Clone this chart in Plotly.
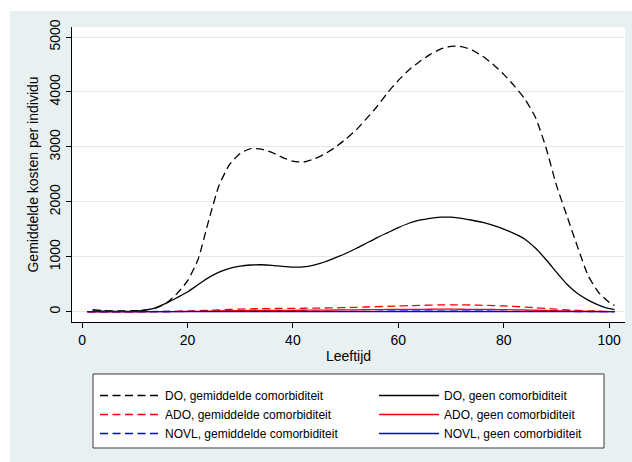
import plotly.graph_objects as go

# ---------------- data ----------------
age = [1, 2, 4, 6, 8, 10, 12, 14, 16, 18, 20, 22, 24, 26, 28, 30, 32, 34, 36, 38, 40,
       42, 44, 46, 48, 50, 52, 54, 56, 58, 60, 62, 64, 66, 68, 70, 72, 74, 76, 78, 80,
       82, 84, 86, 88, 90, 92, 94, 96, 98, 100, 101]

do_gem = [None, 40, 22, 15, 15, 18, 32, 72, 160, 330, 560, 950, 1650, 2300, 2680, 2880,
          2970, 2960, 2900, 2810, 2740, 2725, 2780, 2870, 2990, 3140, 3310, 3520, 3740,
          3990, 4210, 4400, 4550, 4680, 4780, 4830, 4825, 4760, 4650, 4500, 4320, 4110,
          3870, 3540, 2990, 2300, 1740, 1180, 660, 350, 170, 115]

do_geen = [None, 15, 10, 8, 8, 12, 28, 72, 155, 255, 360, 490, 620, 720, 790, 830, 850,
           855, 845, 825, 812, 815, 850, 905, 980, 1060, 1150, 1250, 1350, 1440, 1530,
           1610, 1665, 1700, 1720, 1720, 1700, 1665, 1625, 1570, 1505, 1420, 1320, 1160,
           950, 720, 500, 330, 210, 120, 55, 40]

ado_gem = [0, 0, 0, 0, 0, 0, 1, 2, 4, 7, 11, 18, 26, 34, 42, 49, 53, 56, 58, 60, 62, 63,
           65, 68, 71, 75, 80, 86, 92, 98, 104, 110, 115, 120, 124, 126, 125, 122, 117, 112,
           105, 96, 85, 74, 60, 46, 35, 25, 16, 10, 5, 3]

ado_geen = [0, 0, 0, 0, 0, 0, 0, 1, 2, 3, 5, 8, 12, 16, 19, 21, 23, 24, 25, 25, 26, 27,
            28, 29, 31, 33, 35, 37, 39, 41, 42, 43, 44, 45, 46, 46, 45, 44, 43, 41, 38, 35,
            31, 27, 23, 18, 14, 10, 7, 4, 2, 1]

novl_gem = [3, 3, 3, 3, 3, 3, 3, 4, 4, 5, 5, 6, 6, 7, 7, 7, 8, 8, 8, 8, 8, 8, 8, 8, 8,
            8, 8, 8, 8, 9, 9, 9, 9, 9, 9, 9, 9, 9, 9, 8, 8, 8, 7, 7, 6, 5, 5, 4, 3, 3, 2, 2]

novl_geen = [1, 1, 1, 1, 1, 1, 1, 2, 2, 2, 2, 3, 3, 3, 3, 3, 3, 3, 3, 3, 3, 3, 3, 3, 3,
             3, 3, 3, 3, 4, 4, 4, 4, 4, 4, 4, 4, 4, 4, 4, 4, 3, 3, 3, 3, 2, 2, 2, 1, 1, 1, 1]

x_ticks = [0, 20, 40, 60, 80, 100]
y_ticks = [0, 1000, 2000, 3000, 4000, 5000]

series = [
    ("DO, gemiddelde comorbiditeit", do_gem, "#000000", "dash", "legend"),
    ("DO, geen comorbiditeit", do_geen, "#000000", "solid", "legend2"),
    ("ADO, gemiddelde comorbiditeit", ado_gem, "#FF0000", "dash", "legend"),
    ("ADO, geen comorbiditeit", ado_geen, "#FF0000", "solid", "legend2"),
    ("NOVL, gemiddelde comorbiditeit", novl_gem, "#0000FF", "dash", "legend"),
    ("NOVL, geen comorbiditeit", novl_geen, "#0000FF", "solid", "legend2"),
]

# ---------------- figure ----------------
W, H = 632, 462
ML, MR, MT, MB = 72, 7, 27, 140
PW, PH = W - ML - MR, H - MT - MB


def px_x(p):
    return (p - ML) / PW


def px_y(p):
    return (H - MB - p) / PH


fig = go.Figure()
for i, (name, vals, col, dash, lg) in enumerate(series):
    fig.add_trace(go.Scatter(
        x=age, y=vals, mode="lines", name=name,
        line=dict(color=col, width=1.3, dash="8px,4.5px" if dash == "dash" else "solid",
                  shape="spline", smoothing=0.6),
        legend=lg, legendgroup=name, connectgaps=False,
    ))

font_family = "Liberation Sans, Arial, sans-serif"
panel = "#E8F0F2"

fig.update_layout(
    width=W, height=H,
    margin=dict(l=ML, r=MR, t=MT, b=MB, autoexpand=False),
    paper_bgcolor=panel, plot_bgcolor="#FFFFFF",
    font=dict(family=font_family, size=14, color="#000000"),
    showlegend=True,
    xaxis=dict(
        range=[-1.9, 103.0], tickmode="array", tickvals=x_ticks,
        ticks="outside", ticklen=5, tickcolor="#000000", tickwidth=1,
        showline=True, linecolor="#000000", linewidth=1, mirror=False,
        showgrid=False, zeroline=False,
        tickfont=dict(size=14),
        title=dict(text="Leeftijd", font=dict(size=14), standoff=4),
    ),
    yaxis=dict(
        range=[-187, 5182], tickmode="array", tickvals=y_ticks,
        ticks="outside", ticklen=5, tickcolor="#000000", tickwidth=1,
        showline=True, linecolor="#000000", linewidth=1, mirror=False,
        showgrid=True, gridcolor="#E0EAED", gridwidth=1, zeroline=False,
        tickangle=-90, tickfont=dict(size=14),
        title=dict(text="Gemiddelde kosten per individu", font=dict(size=14), standoff=5),
    ),
    legend=dict(
        x=px_x(95), y=px_y(381), xanchor="left", yanchor="top",
        orientation="v", bgcolor="rgba(0,0,0,0)", borderwidth=0,
        font=dict(size=12), itemwidth=60, tracegroupgap=0,
    ),
    legend2=dict(
        x=px_x(374), y=px_y(381), xanchor="left", yanchor="top",
        orientation="v", bgcolor="rgba(0,0,0,0)", borderwidth=0,
        font=dict(size=12), itemwidth=60, tracegroupgap=0,
    ),
    shapes=[
        # white outer border (top and left) around the grey-blue panel
        dict(type="rect", xref="paper", yref="paper", x0=px_x(0), x1=px_x(W), y0=px_y(11), y1=px_y(0),
             fillcolor="#FFFFFF", line=dict(width=0), layer="below"),
        dict(type="rect", xref="paper", yref="paper", x0=px_x(0), x1=px_x(10), y0=px_y(H), y1=px_y(0),
             fillcolor="#FFFFFF", line=dict(width=0), layer="below"),
        # legend frame
        dict(type="rect", xref="paper", yref="paper", x0=px_x(93), x1=px_x(604), y0=px_y(448), y1=px_y(374),
             fillcolor="#FFFFFF", line=dict(color="#3A3A3A", width=1), layer="below"),
    ],
)

fig.write_html("out.html", config={"displayModeBar": False},
               post_script="document.body.style.margin='0';")
